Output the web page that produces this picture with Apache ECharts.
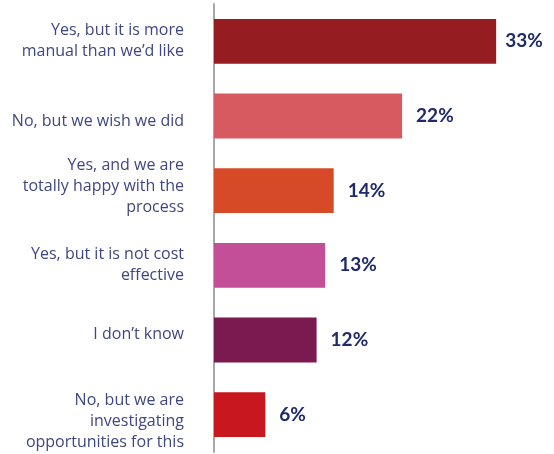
<!DOCTYPE html>
<html>
<head>
<meta charset="utf-8">
<style>html,body{margin:0;padding:0;background:#fff}#c{width:554px;height:454px}</style>
<script src="https://cdn.jsdelivr.net/npm/echarts@6/dist/echarts.min.js"></script>
</head>
<body>
<div id="c"></div>
<script>
const categories = [
  'Yes, but it is more\nmanual than we\u2019d like',
  'No, but we wish we did',
  'Yes, and we are\ntotally happy with the\nprocess',
  'Yes, but it is not cost\neffective',
  'I don\u2019t know',
  'No, but we are\ninvestigating\nopportunities for this'
];
const values = [33, 22, 14, 13, 12, 6];
const colors = ['#951C21', '#D65A60', '#D64A28', '#C24F98', '#7B1A50', '#C8171E'];

// vertical nudges of the category labels (px, + = down), as in the reference layout
const labelNudge = [0, 5, -4, 0, -6, 7];

const labelFont = {fontFamily: 'Open Sans', fontSize: 16, lineHeight: 21, color: '#3f4780'};
const rich = {t: labelFont};
labelNudge.forEach((n, i) => {
  if (n !== 0) rich['s' + i] = {fontSize: 1, lineHeight: 2 * Math.abs(n)};
});

const chart = echarts.init(document.getElementById('c'), null, {renderer: 'canvas'});
chart.setOption({
  animation: false,
  grid: {left: 214, right: 40.75, top: 4, bottom: 2, containLabel: false},
  xAxis: {
    type: 'value', min: 0, max: 35, show: false
  },
  yAxis: {
    type: 'category',
    data: categories,
    inverse: true,
    axisLine: {show: true, lineStyle: {color: '#a8a8a8', width: 2}},
    axisTick: {show: false},
    axisLabel: {
      margin: 30, align: 'right',
      fontFamily: 'Open Sans', fontSize: 16, lineHeight: 21, color: '#3f4780',
      rich: rich,
      formatter: function (value, index) {
        const lines = value.split('\n').map(l => '{t|' + l + '}');
        const n = labelNudge[index];
        if (n > 0) lines.unshift('{s' + index + '| }');
        if (n < 0) lines.push('{s' + index + '| }');
        return lines.join('\n');
      }
    }
  },
  series: [{
    type: 'bar', barWidth: '60%',
    data: values.map((v, i) => ({
      value: v,
      itemStyle: {color: colors[i]},
      label: {distance: i === 0 ? 9 : 14}
    })),
    label: {
      show: true, position: 'right', formatter: '{c}%',
      color: '#1f2a6b', fontFamily: 'Lato', fontWeight: 'bold', fontSize: 19
    }
  }]
});
</script>
</body>
</html>
